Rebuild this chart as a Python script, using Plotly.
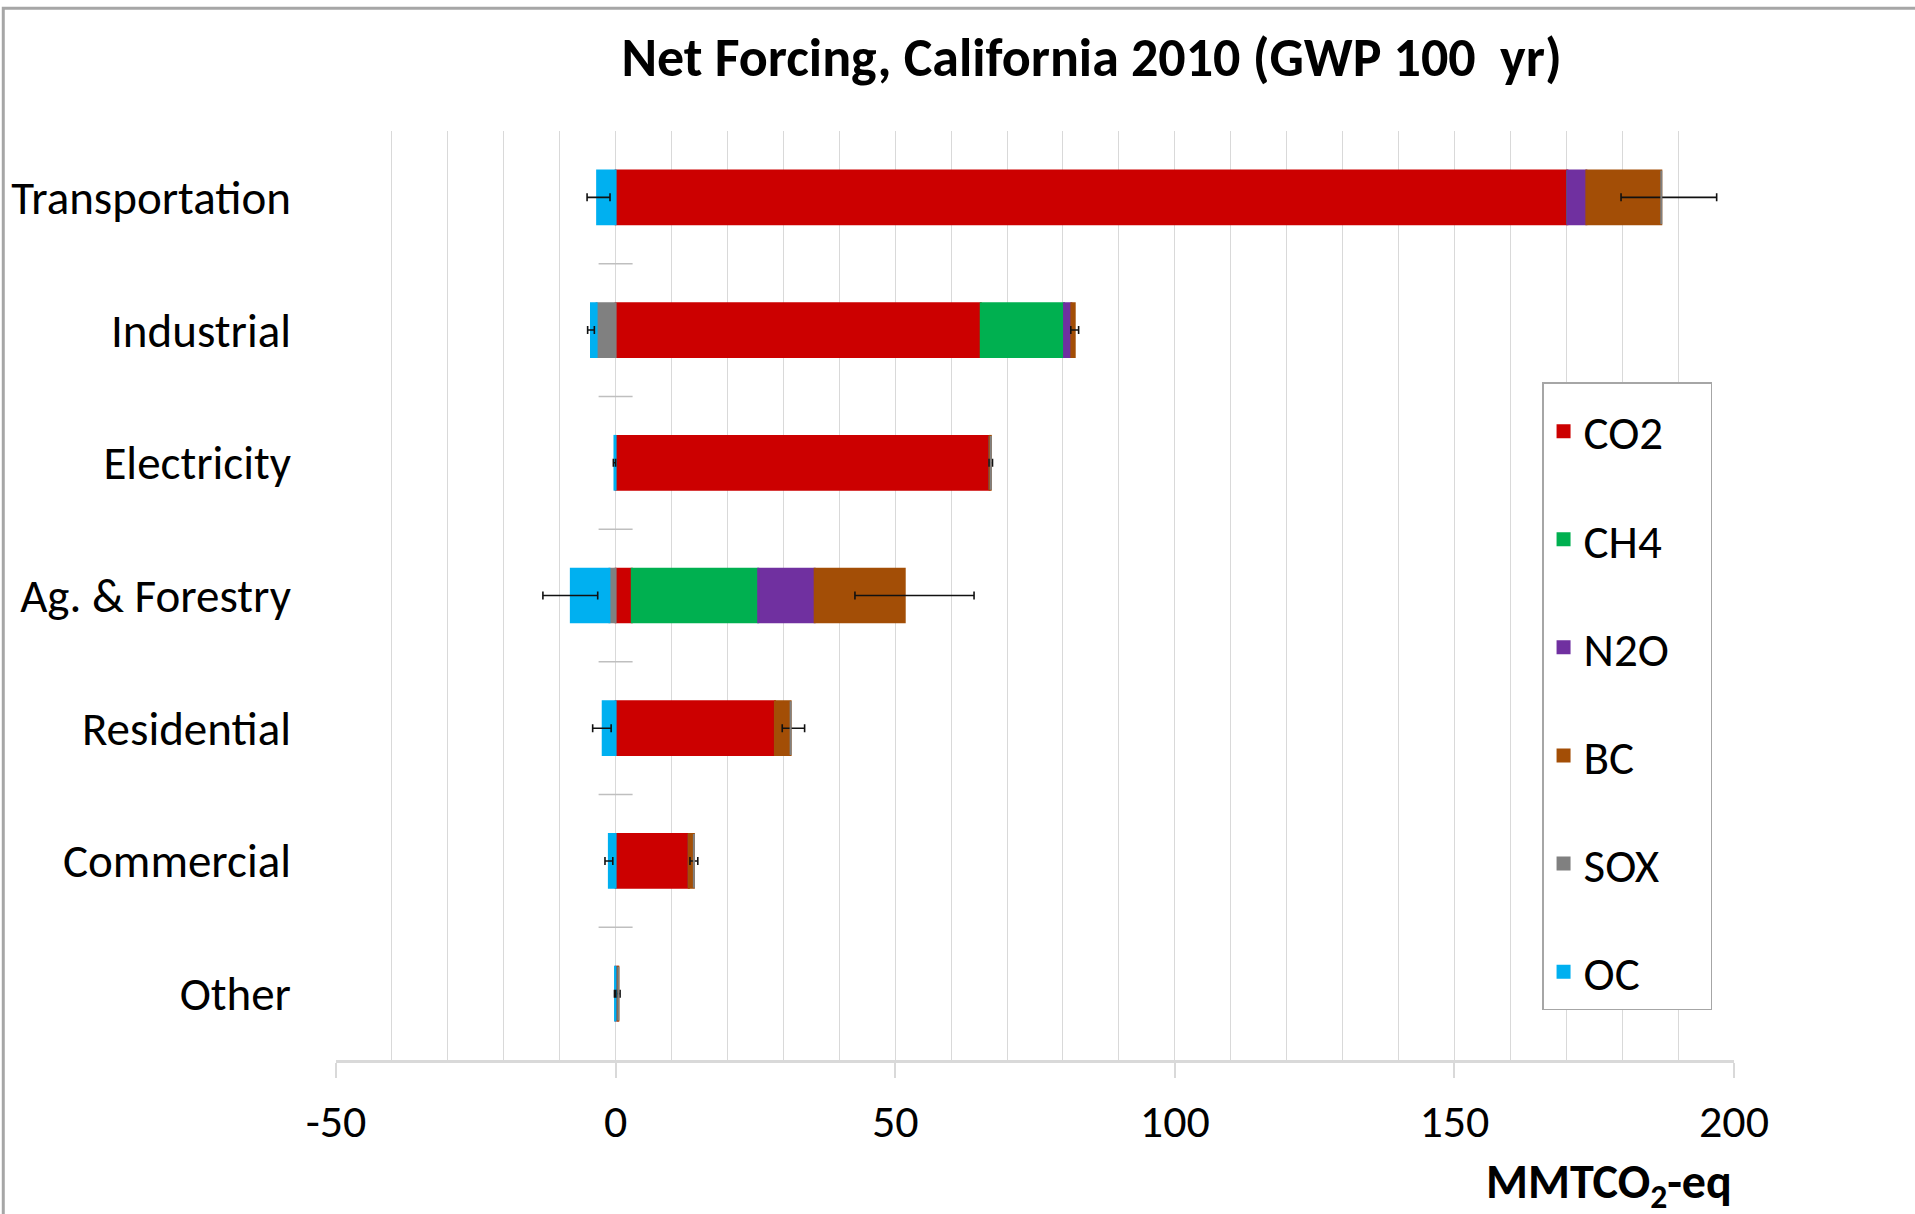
import plotly.graph_objects as go

# Sectors (top to bottom) and net forcing by species, MMTCO2-eq (GWP 100 yr)
sectors = ["Transportation", "Industrial", "Electricity", "Ag. & Forestry",
           "Residential", "Commercial", "Other"]
co2 = [170.2, 65.3, 66.9, 2.9, 28.5, 13.1, 0.4]
ch4 = [0.0, 14.9, 0.0, 22.6, 0.0, 0.0, 0.0]
n2o = [3.4, 1.3, 0.0, 10.1, 0.0, 0.0, 0.0]
bc = [13.4, 0.6, 0.2, 16.1, 2.8, 0.9, 0.1]
sox = [0.0, -3.4, 0.0, -1.1, 0.0, 0.0, 0.0]
oc = [-3.3, -1.0, -0.2, -6.9, -2.3, -1.2, -0.1]

# Uncertainty on the warming total (drawn at the end of the BC segment)
pos_err_plus = [9.9, 0.7, 0.3, 12.4, 2.5, 0.7, 0.3]
pos_err_minus = [7.2, 0.7, 0.3, 8.9, 1.5, 0.7, 0.3]
# Uncertainty on the cooling total (drawn at the end of the OC segment)
neg_err_plus = [2.3, 0.6, 0.2, 4.8, 1.5, 0.7, 0.1]
neg_err_minus = [1.8, 0.6, 0.2, 5.0, 1.8, 0.7, 0.1]

x_ticks = [-50, 0, 50, 100, 150, 200]

series = [
    ("CO2", co2, "#cc0000", None),
    ("CH4", ch4, "#00b050", None),
    ("N2O", n2o, "#7030a0", None),
    ("BC", bc, "#a34e06", (pos_err_plus, pos_err_minus)),
    ("SOX", sox, "#808080", None),
    ("OC", oc, "#00b0f0", (neg_err_plus, neg_err_minus)),
]

FONT = "Carlito, Lato, 'Open Sans', sans-serif"

fig = go.Figure()
for name, vals, color, err in series:
    kw = {}
    if err is not None:
        kw["error_x"] = dict(type="data", symmetric=False, array=err[0],
                             arrayminus=err[1], color="#111111",
                             thickness=1.6, width=4)
    fig.add_trace(go.Bar(
        y=sectors, x=vals, name=name, orientation="h",
        marker=dict(color=color, line=dict(color=color, width=2)),
        legendgroup=name, **kw))

# small cross ticks on the category axis at x = 0, between categories
shapes = []
for i in range(len(sectors) - 1):
    shapes.append(dict(type="line", xref="x", yref="y", xsizemode="pixel",
                       xanchor=0, x0=-17, x1=17, y0=i + 0.5, y1=i + 0.5,
                       line=dict(color="#bfbfbf", width=1.5)))
# chart-area border
shapes.append(dict(type="rect", xref="paper", yref="paper",
                   x0=-0.238, x1=1.25, y0=-0.3, y1=1.132,
                   line=dict(color="#a6a6a6", width=3), layer="below"))

fig.update_layout(
    width=1915, height=1214,
    margin=dict(l=336, r=181, t=131, b=154),
    paper_bgcolor="white", plot_bgcolor="white",
    barmode="relative", bargap=0.595,
    font=dict(family=FONT, size=47, color="#000000"),
    title=dict(text="<b>Net Forcing, California 2010 (GWP 100  yr)</b>",
               x=0.570, xanchor="center", y=0.953, yanchor="middle",
               font=dict(family=FONT, size=54, color="#000000")),
    xaxis=dict(range=[-50, 200], tickmode="array", tickvals=x_ticks,
               ticktext=[str(v) for v in x_ticks],
               showgrid=True, gridcolor="#d9d9d9", gridwidth=1,
               minor=dict(dtick=10, showgrid=True, gridcolor="#d9d9d9",
                          gridwidth=1),
               showline=True, linecolor="#d9d9d9", linewidth=2.5,
               ticks="outside", ticklen=15, tickcolor="#d9d9d9", tickwidth=1.5,
               ticklabelstandoff=4,
               zeroline=False, tickfont=dict(size=46), fixedrange=True),
    yaxis=dict(categoryorder="array", categoryarray=sectors,
               autorange="reversed", showgrid=False, zeroline=False,
               showline=False, ticks="", ticklabelstandoff=44,
               tickfont=dict(size=47)),
    legend=dict(x=0.8627, xanchor="left", y=0.7296, yanchor="top",
                traceorder="grouped", tracegroupgap=44,
                bordercolor="#a6a6a6", borderwidth=1.5, bgcolor="white",
                font=dict(size=47),
                title=dict(text="\u00a0" * 90, font=dict(size=8))),
    shapes=shapes,
    annotations=[dict(text="<b>MMTCO<sub>2</sub>-eq</b>", xref="paper",
                      yref="paper", x=1.0, xanchor="right", y=-0.1345,
                      yanchor="middle", showarrow=False,
                      font=dict(family=FONT, size=48, color="#000000"))],
)

fig.write_html("out.html")
